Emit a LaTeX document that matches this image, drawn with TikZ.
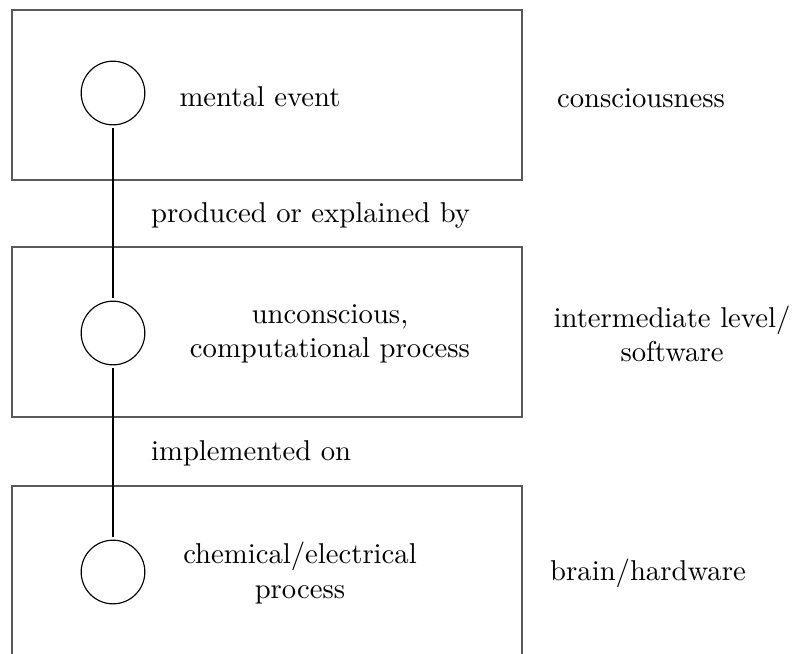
\documentclass[tikz,border=0pt]{standalone}
\usepackage{tikz}
\usetikzlibrary{positioning}

\begin{document}
\begin{tikzpicture}[
        x=0.01226cm, y=-0.01226cm,
        level/.style={
                rectangle,
                draw=black!65,
                semithick,
                minimum width = 6.25cm,
                minimum height = 2.08cm
            },
        event/.style={
                circle,
                draw=black,
                inner sep=0pt,
                minimum size = 0.78cm
            },
        desc/.style = {align=center},
        relation/.style = {anchor=west}
    ]
    \useasboundingbox (0,0) rectangle (797,653);

    \node[level] (top_box) at (267,95) {};
    \node[level] (mid_box) at (267,332) {};
    \node[level] (low_box) at (267,571) {};

    \node[event] (mental) at (113,93) {};
    \node[event] (comp) at (113,333) {};
    \node[event] (chem) at (113,572) {};

    \node[desc] (mental_text) at (260,97) {mental event};
    \node[desc] (comp_text) at (330,334) {unconscious,\\computational process};
    \node[desc] (chem_text) at (300,573) {chemical/electrical\\process};

    \node[desc] (consc) at (641,98) {consciousness};
    \node[desc] (software) at (672,334) {intermediate level/\\software};
    \node[desc] (hardware) at (648,573) {brain/hardware};

    \node[relation] (produced) at (141,215) {produced or explained by};
    \node[relation] (implemented) at (141,453) {implemented on};

    \draw[shorten <=1pt, shorten >=1pt] (mental) -- (comp);
    \draw[shorten <=1pt, shorten >=1pt] (comp) -- (chem);
\end{tikzpicture}
\end{document}
